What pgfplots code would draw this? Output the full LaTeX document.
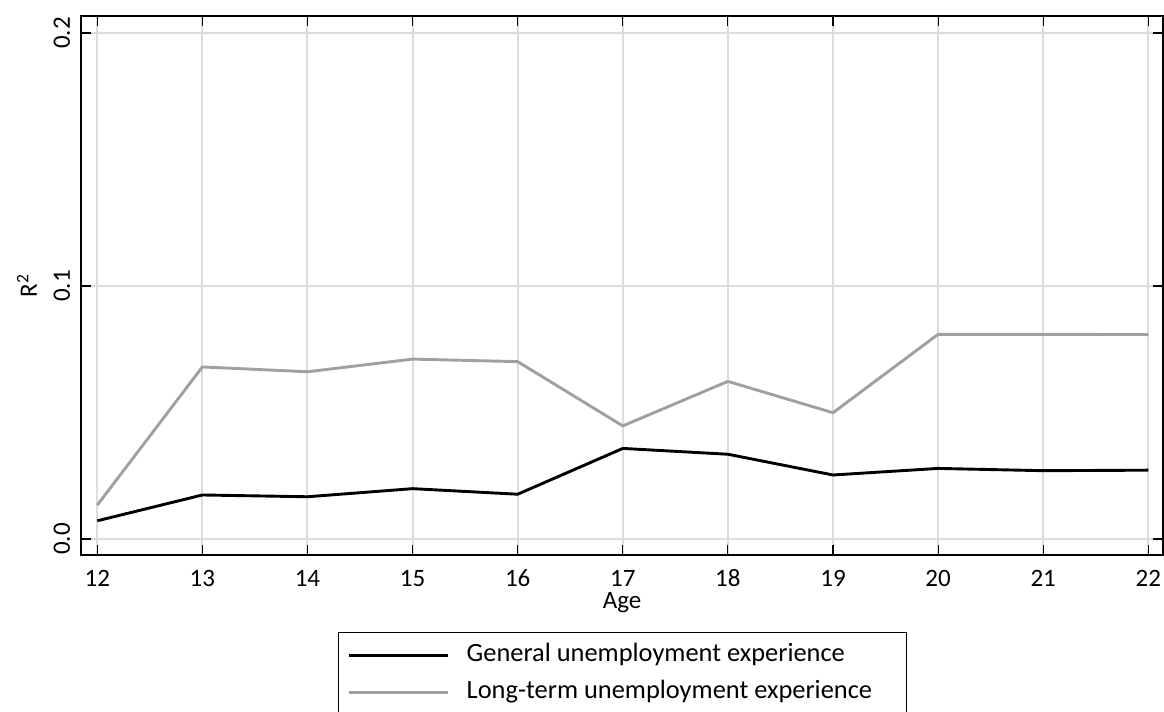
\documentclass[border=0pt]{standalone}
\usepackage{fontspec}
\setmainfont{Carlito}
\usepackage{pgfplots}
\pgfplotsset{compat=1.18}
\definecolor{lgray}{RGB}{160,160,160}
\definecolor{gridgray}{RGB}{221,221,221}
\begin{document}
\begin{tikzpicture}
\begin{axis}[
  scale only axis, width=541pt, height=269.5pt,
  xmin=11.845, xmax=22.140, ymin=-0.00632, ymax=0.2067,
  xtick={12,13,14,15,16,17,18,19,20,21,22},
  ytick={0,0.1,0.2}, yticklabels={0.0,0.1,0.2},
  /pgf/number format/assume math mode=true,
  tick align=inside, major tick length=5pt,
  tick style={black, line width=0.6pt},
  grid=major, major grid style={gridgray, line width=1pt},
  axis line style={black, line width=1pt},
  ticklabel style={font=\fontsize{12.5}{14}\selectfont},
  xticklabel style={anchor=base}, xticklabel shift=15.5pt,
  yticklabel style={rotate=90, anchor=base}, yticklabel shift=5.5pt,
  xlabel={Age}, ylabel={R\textsuperscript{2}},
  label style={font=\fontsize{12.5}{14}\selectfont},
  xlabel style={at={(axis description cs:0.5,0)}, anchor=base, yshift=-26.5pt},
  ylabel style={at={(axis description cs:-0.0407,0.5)}, anchor=base, rotate=0},
  legend style={at={(axis description cs:0,-0.1429)}, anchor=north west, xshift=128.5pt,
    draw=black, line width=0.5pt,
    font=\fontsize{13.2}{15}\selectfont, inner xsep=4.5pt, inner ysep=6.25pt,
    row sep=8pt, column sep=8.5pt, cells={anchor=west},
    nodes={inner sep=0pt, text height=8pt, text depth=2.5pt}},
  legend image code/.code={\draw[#1, line width=1.6pt] (0pt,0pt) -- (49.5pt,0pt);},
]
\addplot[black, line width=1.45pt, line join=round] coordinates {
(12,0.0072) (13,0.0174) (14,0.0167) (15,0.0199) (16,0.0177) (17,0.0358)
(18,0.0335) (19,0.0253) (20,0.0279) (21,0.0270) (22,0.0272)};
\addlegendentry{General unemployment experience}
\addplot[lgray, line width=1.45pt, line join=round] coordinates {
(12,0.0134) (13,0.0680) (14,0.0661) (15,0.0711) (16,0.0701) (17,0.0447)
(18,0.0623) (19,0.0499) (20,0.0809) (21,0.0809) (22,0.0808)};
\addlegendentry{Long-term unemployment experience\rule{12.5pt}{0pt}}
\coordinate (sw) at (rel axis cs:0,0);
\coordinate (ne) at (rel axis cs:1,1);
\end{axis}
\pgfresetboundingbox
\path[use as bounding box] ([shift={(-40.5pt,-78pt)}]sw) rectangle ([shift={(0.5pt,8pt)}]ne);
\end{tikzpicture}
\end{document}
